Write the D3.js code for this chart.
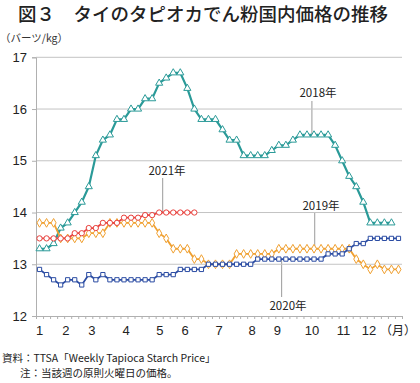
<!DOCTYPE html>
<html><head><meta charset="utf-8">
<script src="https://cdn.jsdelivr.net/npm/d3@7"></script>
<style>
html,body{margin:0;padding:0;background:#fff;}
svg{display:block;}
</style></head>
<body>
<svg id="chart" width="420" height="383"></svg>
<script>
// ---- data ----
const weeks = d3.range(52); // weekly categories (index of week in year)
const yTicks = [12, 13, 14, 15, 16, 17];
const monthLabels = ["1","2","3","4","5","6","7","8","9","10","11","12"];
const monthWeek = [0, 3.75, 7.45, 12.3, 17.1, 20.7, 25.5, 30.2, 33.8, 38.7, 43.2, 46.8];

const y2018 = [13.3,13.3,13.4,13.7,13.8,14.0,14.2,14.5,15.1,15.4,15.5,15.8,15.8,16.0,16.0,16.2,16.2,16.5,16.6,16.7,16.7,16.4,16.0,15.8,15.8,15.8,15.6,15.4,15.4,15.1,15.1,15.1,15.1,15.2,15.3,15.3,15.4,15.5,15.5,15.5,15.5,15.5,15.3,15.0,14.7,14.5,14.2,13.8,13.8,13.8,13.8];
const y2019 = [13.8,13.8,13.8,13.5,13.5,13.5,13.5,13.6,13.6,13.6,13.8,13.8,13.8,13.8,13.8,13.8,13.8,13.6,13.5,13.3,13.3,13.3,13.1,13.1,13.0,13.0,13.0,13.0,13.2,13.2,13.2,13.2,13.2,13.2,13.3,13.3,13.3,13.3,13.3,13.3,13.3,13.3,13.3,13.3,13.3,13.1,13.0,12.9,13.0,12.9,12.9,12.9];
const y2020 = [12.9,12.8,12.7,12.6,12.7,12.7,12.6,12.8,12.7,12.8,12.7,12.7,12.7,12.7,12.7,12.7,12.7,12.8,12.8,12.8,12.9,12.9,12.9,12.9,13.0,13.0,13.0,13.0,13.0,13.0,13.0,13.1,13.1,13.1,13.1,13.1,13.1,13.1,13.1,13.1,13.1,13.2,13.2,13.2,13.3,13.4,13.4,13.5,13.5,13.5,13.5,13.5];
const y2021 = [13.5,13.5,13.5,13.5,13.5,13.6,13.6,13.7,13.7,13.8,13.8,13.8,13.9,13.9,13.9,13.95,13.95,14.0,14.0,14.0,14.0,14.0,14.0];

const seriesNames = ["2018年","2019年","2020年","2021年"];
const seriesValues = [y2018, y2019, y2020, y2021];
const seriesColors = ["#2a9a98", "#f0a030", "#2b4ca3", "#e8403c"];
const seriesSymbols = [d3.symbolTriangle, d3.symbolDiamond, d3.symbolSquare, d3.symbolCircle];

// ---- layout ----
const svg = d3.select("#chart");
const pLeft = 36, pRight = 402, pTop = 57.3, pBottom = 316;
const x = d3.scaleLinear().domain([-0.5, 51.5]).range([pLeft, pRight]);
const y = d3.scaleLinear().domain([12, 17]).range([pBottom, pTop]);

const jp = "'Noto Sans CJK JP','Noto Sans',sans-serif";
const num = "'Liberation Sans',Arial,sans-serif";

// title
svg.append("text").attr("x", 18).attr("y", 21)
  .attr("font-family", jp).attr("font-size", 18.5).attr("font-weight", 500)
  .attr("fill", "#222").text("図３　タイのタピオカでん粉国内価格の推移");
svg.append("text").attr("x", 0).attr("y", 42)
  .attr("font-family", jp).attr("font-size", 10.5).attr("fill", "#333")
  .text("（バーツ/kg）");

// gridlines
svg.append("g").selectAll("line").data(yTicks.filter(d => d > 12)).join("line")
  .attr("x1", pLeft).attr("x2", pRight)
  .attr("y1", d => y(d)).attr("y2", d => y(d))
  .attr("stroke", "#c4c4c4").attr("stroke-width", 1);

// y axis
const yAxis = svg.append("g").attr("transform", `translate(${pLeft},0)`)
  .call(d3.axisLeft(y).tickValues(yTicks).tickSize(4).tickPadding(5).tickFormat(d3.format("d")));
yAxis.select(".domain").attr("stroke", "#b0b0b0");
yAxis.selectAll(".tick line").attr("stroke", "#b0b0b0");
yAxis.selectAll("text").attr("font-family", num).attr("font-size", 13).attr("fill", "#222");

// x axis: weekly tick marks
const xAxis = svg.append("g").attr("transform", `translate(0,${pBottom})`)
  .call(d3.axisBottom(x).tickValues(d3.range(53).map(d => d - 0.5)).tickSize(3).tickFormat(""));
xAxis.select(".domain").attr("stroke", "#b0b0b0");
xAxis.selectAll(".tick line").attr("stroke", "#b0b0b0");

// month labels
svg.append("g").selectAll("text").data(monthLabels).join("text")
  .attr("x", (d, i) => x(monthWeek[i])).attr("y", 335)
  .attr("text-anchor", "middle")
  .attr("font-family", num).attr("font-size", 13).attr("fill", "#222")
  .text(d => d);
svg.append("text").attr("x", 398).attr("y", 335).attr("text-anchor", "middle")
  .attr("font-family", jp).attr("font-size", 12).attr("fill", "#222").text("（月）");

// series
const line = d3.line().defined(d => d != null).x((d, i) => x(i)).y(d => y(d));
seriesValues.forEach((vals, k) => {
  const g = svg.append("g");
  g.append("path").datum(vals)
    .attr("fill", "none").attr("stroke", seriesColors[k])
    .attr("stroke-width", k === 0 ? 2.2 : 1.8).attr("d", line);
  const sz = k === 2 ? 18 : 22;
  g.selectAll("path.m").data(vals.map((v, i) => ({v, i}))).join("path")
    .attr("class", "m")
    .attr("transform", d => `translate(${x(d.i)},${y(d.v)})`)
    .attr("d", d3.symbol().type(seriesSymbols[k]).size(sz))
    .attr("fill", "#fff").attr("stroke", seriesColors[k]).attr("stroke-width", 1);
});

// annotations with leader lines
const ann = [
  {k: 0, text: "2018年", tx: 318, ty: 97, lx: 38.7, val: 15.5, y0: 101},
  {k: 3, text: "2021年", tx: 167, ty: 175, lx: 17.5, val: 14.0, y0: 178},
  {k: 1, text: "2019年", tx: 321, ty: 210, lx: 39.1, val: 13.3, y0: 213},
  {k: 2, text: "2020年", tx: 288, ty: 310, lx: 34.4, val: 13.1, y0: 297}
];
ann.forEach(a => {
  svg.insert("line", "g").attr("x1", x(a.lx)).attr("x2", x(a.lx))
    .attr("y1", a.y0).attr("y2", y(a.val))
    .attr("stroke", "#9a9a9a").attr("stroke-width", 1);
  svg.append("text").attr("x", a.tx).attr("y", a.ty).attr("text-anchor", "middle")
    .attr("font-family", jp).attr("font-size", 11.5).attr("fill", "#222").text(a.text);
});

// footnotes
svg.append("text").attr("x", 2).attr("y", 362)
  .attr("font-family", jp).attr("font-size", 10.5).attr("fill", "#222")
  .text("資料：TTSA「Weekly Tapioca Starch Price」");
svg.append("text").attr("x", 20).attr("y", 377)
  .attr("font-family", jp).attr("font-size", 10.5).attr("fill", "#222")
  .text("注：当該週の原則火曜日の価格。");
</script>
</body></html>
